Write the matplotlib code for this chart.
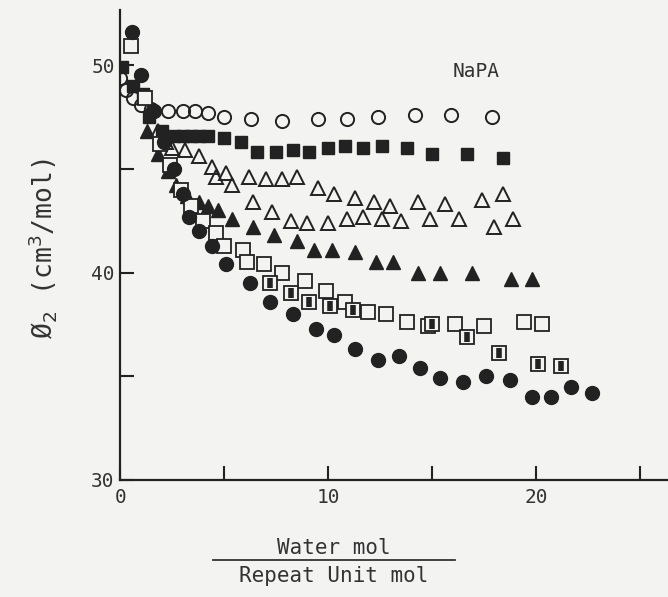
import matplotlib.pyplot as plt
from matplotlib.lines import Line2D

# open circles
oc_x = [0.0, 0.3, 0.6, 1.0, 1.5, 2.3, 3.0, 3.6, 4.2, 5.0, 6.3, 7.8, 9.5, 10.9, 12.4, 14.2, 15.9, 17.9]
oc_y = [49.4, 48.8, 48.4, 48.1, 47.9, 47.8, 47.8, 47.8, 47.7, 47.5, 47.4, 47.3, 47.4, 47.4, 47.5, 47.6, 47.6, 47.5]

# filled squares
fs_x = [0.1, 0.6, 1.1, 1.4, 2.0, 2.6, 3.0, 3.4, 3.8, 4.2, 5.0, 5.8, 6.6, 7.5, 8.3, 9.1, 10.0, 10.8, 11.7, 12.6, 13.8, 15.0, 16.7, 18.4]
fs_y = [49.9, 49.0, 48.6, 47.5, 46.8, 46.6, 46.6, 46.6, 46.6, 46.6, 46.5, 46.3, 45.8, 45.8, 45.9, 45.8, 46.0, 46.1, 46.0, 46.1, 46.0, 45.7, 45.7, 45.5]

# open triangles (upper)
ot1_x = [1.8, 2.2, 2.5, 3.1, 3.8, 4.4, 5.1, 6.2, 7.0, 7.8, 8.5, 9.5, 10.3, 11.3, 12.2, 13.0, 14.3, 15.6, 17.4, 18.4]
ot1_y = [46.8, 46.3, 46.0, 45.9, 45.6, 45.1, 44.8, 44.6, 44.5, 44.5, 44.6, 44.1, 43.8, 43.6, 43.4, 43.2, 43.4, 43.3, 43.5, 43.8]

# open triangles (lower)
ot2_x = [4.6, 5.4, 6.4, 7.3, 8.2, 9.0, 10.0, 10.9, 11.7, 12.6, 13.5, 14.9, 16.3, 18.0, 18.9]
ot2_y = [44.6, 44.2, 43.4, 42.9, 42.5, 42.4, 42.4, 42.6, 42.7, 42.6, 42.5, 42.6, 42.6, 42.2, 42.6]

# filled triangles
ft_x = [1.3, 1.8, 2.3, 2.7, 3.2, 3.8, 4.2, 4.7, 5.4, 6.4, 7.4, 8.5, 9.3, 10.2, 11.3, 12.3, 13.1, 14.3, 15.4, 16.9, 18.8, 19.8]
ft_y = [46.8, 45.7, 44.9, 44.2, 43.7, 43.4, 43.2, 43.0, 42.6, 42.2, 41.8, 41.5, 41.1, 41.1, 41.0, 40.5, 40.5, 40.0, 40.0, 40.0, 39.7, 39.7]

# open squares
os_x = [0.5, 1.2, 1.9, 2.4, 2.9, 3.4, 4.0, 4.6, 5.0, 5.9, 6.1, 6.9, 7.8, 8.9, 9.9, 10.8, 11.9, 12.8, 13.8, 14.8, 16.1, 17.5, 19.4, 20.3]
os_y = [50.9, 48.4, 46.2, 45.2, 44.0, 43.2, 42.5, 41.9, 41.3, 41.1, 40.5, 40.4, 40.0, 39.6, 39.1, 38.6, 38.1, 38.0, 37.6, 37.4, 37.5, 37.4, 37.6, 37.5]

# squares with dark centre
hs_x = [7.2, 8.2, 9.1, 10.1, 11.2, 15.0, 16.7, 18.2, 20.1, 21.2]
hs_y = [39.5, 39.0, 38.6, 38.4, 38.2, 37.5, 36.9, 36.1, 35.6, 35.5]

# filled circles
fc_x = [0.55, 1.0, 1.6, 2.1, 2.6, 3.0, 3.3, 3.8, 4.4, 5.1, 6.25, 7.2, 8.3, 9.4, 10.3, 11.3, 12.4, 13.4, 14.4, 15.4, 16.5, 17.6, 18.75, 19.8, 20.7, 21.7, 22.7]
fc_y = [51.6, 49.5, 47.8, 46.3, 45.0, 43.8, 42.7, 42.0, 41.3, 40.4, 39.5, 38.6, 38.0, 37.3, 37.0, 36.3, 35.8, 36.0, 35.4, 34.9, 34.7, 35.0, 34.8, 34.0, 34.0, 34.5, 34.2]

ink = "#222222"
bg = "#f3f3f1"
font = "DejaVu Sans Mono"

fig = plt.figure(figsize=(6.68, 5.97), dpi=100, facecolor=bg)
ax = fig.add_axes([0.18, 0.196, 0.82, 0.787])
ax.set_facecolor(bg)

ms = 9.5
ax.plot(oc_x, oc_y, "o", ms=ms, mfc="none", mec=ink, mew=1.4, ls="none")
ax.plot(fs_x, fs_y, "s", ms=ms - 1, mfc=ink, mec=ink, ls="none")
ax.plot(ot1_x, ot1_y, "^", ms=ms, mfc="none", mec=ink, mew=1.4, ls="none")
ax.plot(ot2_x, ot2_y, "^", ms=ms, mfc="none", mec=ink, mew=1.4, ls="none")
ax.plot(ft_x, ft_y, "^", ms=ms, mfc=ink, mec=ink, ls="none")
ax.plot(os_x, os_y, "s", ms=ms, mfc=bg, mec=ink, mew=1.3, ls="none")
ax.plot(hs_x, hs_y, "s", ms=ms, mfc=bg, mec=ink, mew=1.3, ls="none")
ax.plot(hs_x, hs_y, "|", ms=ms - 3, mec=ink, mew=4, ls="none")
ax.plot(fc_x, fc_y, "o", ms=ms + 0.5, mfc=ink, mec=ink, ls="none")

ax.set_xlim(0, 26.35)
ax.set_ylim(30, 52.65)
for s in ["top", "right"]:
    ax.spines[s].set_visible(False)
for s in ["left", "bottom"]:
    ax.spines[s].set_linewidth(1.6)
    ax.spines[s].set_color(ink)

ax.set_xticks([0, 5, 10, 15, 20, 25])
ax.set_xticklabels(["0", "", "10", "", "20", ""])
ax.set_yticks([30, 35, 40, 45, 50])
ax.set_yticklabels(["30", "", "40", "", "50"])
ax.tick_params(direction="in", length=10, width=1.5, color=ink, labelsize=14,
               labelcolor="#333333")
ax.tick_params(axis="x", pad=6)
ax.tick_params(axis="y", pad=4)
for lab in ax.get_xticklabels() + ax.get_yticklabels():
    lab.set_family(font)

ax.text(17.1, 49.7, "NaPA", fontsize=14, family=font, color="#333333", ha="center", va="center")

fig.text(0.063, 0.583, "Ø$_2$ (cm$^3$/mol)", rotation=90, fontsize=19, family=font,
         color="#333333", ha="center", va="center")

fig.text(0.5, 0.082, "Water mol", fontsize=15, family=font, color="#333333", ha="center", va="center")
fig.text(0.5, 0.035, "Repeat Unit mol", fontsize=15, family=font, color="#333333", ha="center", va="center")
fig.add_artist(Line2D([0.319, 0.681], [0.062, 0.062], color="#333333", lw=1.3))

fig.savefig("out.png", dpi=100, facecolor=bg)
